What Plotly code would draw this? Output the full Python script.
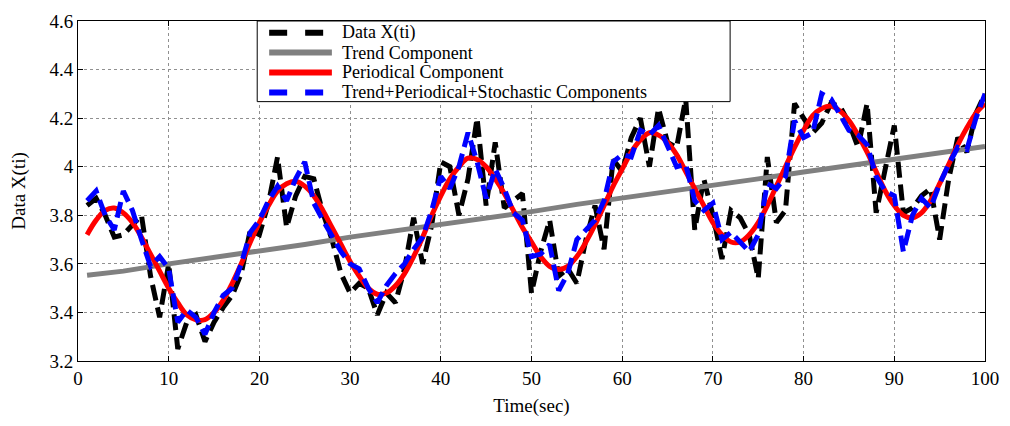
import plotly.graph_objects as go

# time axis (seconds)
time_s = list(range(1, 101))

data_x = [3.84, 3.87, 3.80, 3.71, 3.72, 3.76, 3.80, 3.55, 3.38, 3.60,
          3.25, 3.36, 3.39, 3.28, 3.36, 3.42, 3.47, 3.56, 3.74, 3.72,
          3.85, 4.04, 3.75, 3.88, 3.96, 3.95, 3.81, 3.70, 3.56, 3.48,
          3.52, 3.50, 3.39, 3.48, 3.44, 3.58, 3.79, 3.60, 3.76, 4.02,
          4.00, 3.80, 3.95, 4.20, 3.84, 4.10, 3.83, 3.86, 3.89, 3.48,
          3.65, 3.78, 3.55, 3.58, 3.52, 3.70, 3.84, 3.66, 4.03, 3.98,
          4.12, 4.20, 4.00, 4.24, 4.10, 4.08, 4.28, 3.74, 3.95, 3.80,
          3.62, 3.82, 3.79, 3.72, 3.54, 4.04, 3.77, 3.82, 4.26, 4.20,
          4.14, 4.18, 4.26, 4.25, 4.18, 4.08, 4.26, 3.81, 3.99, 4.17,
          3.81, 3.83, 3.88, 3.91, 3.70, 3.95, 4.12, 4.06, 4.22, 4.30]

trend_t = [1, 5, 10, 15, 20, 25, 30, 35, 40, 45, 50, 55, 60, 65, 70, 75, 80, 85, 90, 95, 100]
trend_v = [3.553, 3.570, 3.600, 3.625, 3.655, 3.680, 3.710, 3.735, 3.763, 3.790, 3.815,
           3.845, 3.870, 3.895, 3.925, 3.950, 3.978, 4.005, 4.030, 4.055, 4.083]

periodic = [3.72, 3.78, 3.82, 3.83, 3.81, 3.77, 3.71, 3.64, 3.57, 3.50,
            3.44, 3.39, 3.37, 3.37, 3.40, 3.45, 3.52, 3.60, 3.69, 3.77,
            3.84, 3.90, 3.93, 3.94, 3.92, 3.88, 3.82, 3.75, 3.68, 3.61,
            3.55, 3.50, 3.475, 3.48, 3.51, 3.56, 3.63, 3.71, 3.80, 3.88,
            3.95, 4.00, 4.035, 4.03, 4.00, 3.95, 3.89, 3.82, 3.75, 3.69,
            3.63, 3.59, 3.577, 3.59, 3.63, 3.69, 3.76, 3.84, 3.92, 3.99,
            4.06, 4.11, 4.14, 4.13, 4.10, 4.05, 3.98, 3.91, 3.84, 3.77,
            3.72, 3.69, 3.69, 3.72, 3.77, 3.84, 3.92, 4.00, 4.08, 4.15,
            4.21, 4.24, 4.25, 4.23, 4.19, 4.13, 4.06, 3.98, 3.90, 3.84,
            3.80, 3.79, 3.81, 3.86, 3.93, 4.01, 4.09, 4.16, 4.22, 4.26]

combined = [3.86, 3.90, 3.80, 3.74, 3.90, 3.82, 3.70, 3.59, 3.63, 3.58,
            3.36, 3.41, 3.38, 3.31, 3.40, 3.47, 3.50, 3.60, 3.73, 3.78,
            3.86, 3.92, 3.86, 3.95, 4.02, 3.85, 3.78, 3.71, 3.65, 3.60,
            3.58, 3.50, 3.44, 3.51, 3.56, 3.60, 3.66, 3.71, 3.82, 3.96,
            3.91, 4.00, 4.14, 4.02, 3.87, 3.99, 3.91, 3.81, 3.78, 3.63,
            3.64, 3.68, 3.49, 3.56, 3.70, 3.74, 3.78, 3.86, 4.02, 4.05,
            4.04, 4.15, 4.13, 4.17, 4.08, 4.00, 4.01, 3.86, 3.82, 3.85,
            3.70, 3.73, 3.69, 3.65, 3.72, 3.93, 3.91, 3.96, 4.19, 4.12,
            4.14, 4.30, 4.28, 4.21, 4.15, 4.13, 4.09, 3.96, 3.90, 3.88,
            3.65, 3.80, 3.87, 3.83, 3.93, 4.01, 4.08, 4.07, 4.20, 4.30]

x_ticks = [0, 10, 20, 30, 40, 50, 60, 70, 80, 90, 100]
y_ticks = [3.2, 3.4, 3.6, 3.8, 4.0, 4.2, 4.4, 4.6]
y_tick_text = ["3.2", "3.4", "3.6", "3.8", "4", "4.2", "4.4", "4.6"]

series_names = ["Data X(ti)", "Trend Component", "Periodical Component",
                "Trend+Periodical+Stochastic Components"]
series_colors = ["black", "#808080", "#ff0000", "#0000ff"]
series_dash = ["16px,7px", "solid", "solid", "16px,7px"]

FONT = "Liberation Serif"
W, H = 1010, 426
ML, MR, MT, MB = 78, 21, 11, 65
PW, PH = W - ML - MR, H - MT - MB

fig = go.Figure()
series_x = [time_s, trend_t, time_s, time_s]
series_y = [data_x, trend_v, periodic, combined]
for name, col, dsh, xs, ys in zip(series_names, series_colors, series_dash, series_x, series_y):
    fig.add_trace(go.Scatter(x=xs, y=ys, mode="lines", name=name, showlegend=False,
                             line=dict(color=col, width=5, dash=dsh,
                                       shape="spline" if name == "Periodical Component" else "linear")))

# legend box (drawn in paper coordinates, like MATLAB's compact legend)
def px_to_paper(px, py):
    return (px - ML) / PW, (H - MB - py) / PH

bx0, by0 = px_to_paper(258, 94)
bx1, by1 = px_to_paper(733, 11)
fig.add_shape(type="rect", xref="paper", yref="paper", x0=bx0, y0=by0, x1=bx1, y1=by1,
              line=dict(color="black", width=1), fillcolor="white", layer="above")
row_y = [23, 43.5, 64, 84.5]
for name, col, dsh, ry in zip(series_names, series_colors, series_dash, row_y):
    lx0, ly = px_to_paper(270, ry)
    lx1, _ = px_to_paper(333, ry)
    fig.add_shape(type="line", xref="paper", yref="paper", x0=lx0, x1=lx1, y0=ly, y1=ly,
                  line=dict(color=col, width=6, dash="dash" if dsh != "solid" else "solid"),
                  layer="above")
    tx, ty = px_to_paper(342, ry)
    fig.add_annotation(xref="paper", yref="paper", x=tx, y=ty, text=name, showarrow=False,
                       xanchor="left", yanchor="middle", borderpad=0,
                       font=dict(family=FONT, size=18, color="black"))

axis_common = dict(
    showline=True, linecolor="black", linewidth=1, mirror="allticks",
    ticks="inside", ticklen=5, tickcolor="black",
    showgrid=True, gridcolor="#909090", griddash="dot", gridwidth=1,
    zeroline=False, tickfont=dict(family=FONT, size=19, color="black"),
)

fig.update_layout(
    width=W, height=H,
    margin=dict(l=ML, r=MR, t=MT, b=MB),
    paper_bgcolor="white", plot_bgcolor="white",
    font=dict(family=FONT, color="black"),
    showlegend=False,
    xaxis=dict(range=[0, 100], tickvals=x_ticks,
               title=dict(text="Time(sec)", font=dict(family=FONT, size=19), standoff=10),
               **axis_common),
    yaxis=dict(range=[3.2, 4.6], tickvals=y_ticks, ticktext=y_tick_text,
               title=dict(text="Data X(ti)", font=dict(family=FONT, size=19), standoff=18),
               **axis_common),
)

fig.write_html("out.html")
